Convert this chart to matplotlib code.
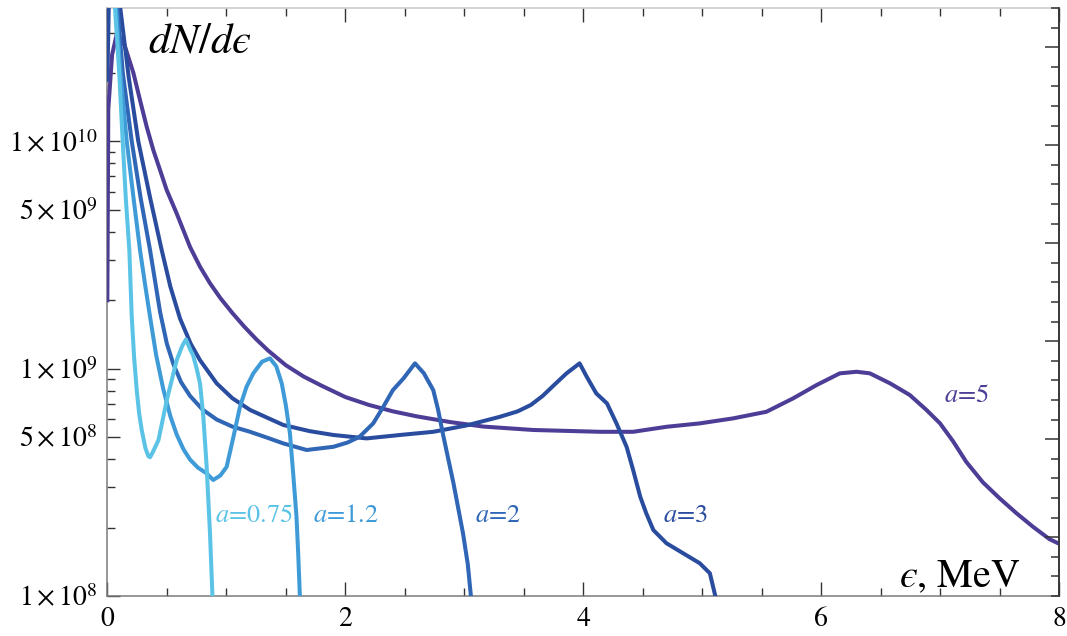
import numpy as np
import matplotlib
matplotlib.use("Agg")
import matplotlib.pyplot as plt
from matplotlib.ticker import FixedLocator, NullFormatter, FixedFormatter

plt.rcParams['mathtext.fontset'] = 'stix'
plt.rcParams['font.family'] = ['STIXGeneral', 'DejaVu Serif']

# ---------------- data ----------------
# energies in MeV, values as log10(dN/de)
x_075 = [0.02, 0.06, 0.10, 0.129, 0.155, 0.185, 0.205, 0.225, 0.247, 0.268, 0.289, 0.32, 0.345,
         0.359, 0.38, 0.43, 0.50, 0.583, 0.63, 0.661, 0.70, 0.72, 0.751, 0.779, 0.807, 0.835,
         0.863, 0.885]
y_075 = [10.75, 10.62, 10.30, 10.0, 9.75, 9.52, 9.23, 9.05, 8.905, 8.80, 8.73, 8.65, 8.615,
         8.61, 8.63, 8.686, 8.862, 9.037, 9.10, 9.128, 9.08, 9.06, 9.00, 8.935, 8.788, 8.568,
         8.275, 7.98]

x_12 = [0.02, 0.07, 0.11, 0.163, 0.22, 0.275, 0.32, 0.359, 0.41, 0.47, 0.53, 0.583, 0.64, 0.695,
        0.76, 0.835, 0.89, 0.95, 1.003, 1.06, 1.115, 1.17, 1.227, 1.30, 1.367, 1.42, 1.466, 1.50,
        1.535, 1.565, 1.59, 1.605, 1.62]
y_12 = [10.75, 10.62, 10.30, 10.0, 9.75, 9.52, 9.36, 9.228, 9.06, 8.91, 8.79, 8.71, 8.645, 8.60,
        8.565, 8.539, 8.51, 8.53, 8.568, 8.70, 8.832, 8.92, 8.979, 9.03, 9.045, 9.01, 8.935, 8.84,
        8.715, 8.52, 8.349, 8.18, 7.98]

x_2 = [0.02, 0.08, 0.13, 0.205, 0.28, 0.359, 0.443, 0.50, 0.555, 0.62, 0.695, 0.80, 0.919, 1.05,
       1.2, 1.35, 1.479, 1.675, 1.90, 2.02, 2.12, 2.235, 2.32, 2.40, 2.49, 2.586, 2.66, 2.74,
       2.78, 2.82, 2.91, 2.99, 3.03, 3.06]
y_2 = [10.75, 10.62, 10.30, 10.0, 9.75, 9.521, 9.25, 9.11, 9.02, 8.94, 8.88, 8.82, 8.776, 8.745,
       8.722, 8.695, 8.671, 8.642, 8.656, 8.675, 8.70, 8.759, 8.832, 8.905, 8.957, 9.023, 8.98,
       8.905, 8.82, 8.715, 8.495, 8.275, 8.14, 7.98]

x_3 = [0.0, 0.02, 0.06, 0.11, 0.18, 0.26, 0.36, 0.457, 0.53, 0.611, 0.70, 0.779, 0.919, 1.05,
       1.20, 1.479, 1.70, 1.90, 2.18, 2.46, 2.74, 3.02, 3.30, 3.45, 3.56, 3.66, 3.75, 3.86, 3.97,
       4.03, 4.11, 4.20, 4.28, 4.365, 4.42, 4.48, 4.53, 4.59, 4.70, 4.84, 4.98, 5.065, 5.12]
y_3 = [10.27, 10.80, 10.80, 10.58, 10.28, 10.0, 9.75, 9.521, 9.36, 9.22, 9.11, 9.037, 8.935,
       8.87, 8.818, 8.752, 8.725, 8.708, 8.693, 8.708, 8.722, 8.75, 8.788, 8.812, 8.84, 8.88,
       8.925, 8.979, 9.023, 8.964, 8.891, 8.847, 8.759, 8.656, 8.554, 8.436, 8.364, 8.29, 8.232,
       8.188, 8.144, 8.10, 7.98]

x_5 = [0.0, 0.008, 0.04, 0.079, 0.115, 0.149, 0.219, 0.275, 0.331, 0.387, 0.443, 0.499, 0.583,
       0.695, 0.779, 0.863, 0.95, 1.05, 1.15, 1.25, 1.35, 1.5, 1.65, 1.8, 2.0, 2.2, 2.4, 2.6,
       2.88, 3.16, 3.58, 4.14, 4.42, 4.70, 4.98, 5.26, 5.54, 5.765, 5.96, 6.157, 6.30, 6.41,
       6.58, 6.745, 6.886, 7.0, 7.11, 7.22, 7.36, 7.50, 7.64, 7.78, 7.92, 8.0]
y_5 = [9.30, 10.14, 10.38, 10.47, 10.45, 10.415, 10.30, 10.18, 10.063, 9.96, 9.873, 9.785,
       9.682, 9.535, 9.448, 9.375, 9.31, 9.245, 9.185, 9.13, 9.08, 9.015, 8.965, 8.925, 8.875,
       8.84, 8.812, 8.79, 8.765, 8.745, 8.73, 8.722, 8.722, 8.744, 8.759, 8.781, 8.81, 8.869,
       8.927, 8.979, 8.986, 8.979, 8.935, 8.884, 8.818, 8.759, 8.68, 8.59, 8.50, 8.43, 8.365,
       8.305, 8.25, 8.23]

series_x = [x_5, x_3, x_2, x_12, x_075]
series_logy = [y_5, y_3, y_2, y_12, y_075]
colors = ['#4E3D96', '#2A4C9F', '#2F66B5', '#3F9BD8', '#5BC3E6']

# label anchor positions (x in MeV, y value at baseline)
label_x = [7.03, 4.67, 3.09, 1.73, 0.905]
label_y = [7.1e8, 2.12e8, 2.12e8, 2.12e8, 2.12e8]
label_texts = [r'$a$=5', r'$a$=3', r'$a$=2', r'$a$=1.2', r'$a$=0.75']

ytick_major = [1e8, 5e8, 1e9, 5e9, 1e10]
ytick_labels = [r'$1\times10^{8}$', r'$5\times10^{8}$', r'$1\times10^{9}$',
                r'$5\times10^{9}$', r'$1\times10^{10}$']
ytick_minor = [2e8, 3e8, 4e8, 6e8, 7e8, 8e8, 9e8, 2e9, 3e9, 4e9, 6e9, 7e9, 8e9, 9e9, 2e10, 3e10]
xtick_major = [0, 2, 4, 6, 8]
xtick_minor = [0.5, 1, 1.5, 2.5, 3, 3.5, 4.5, 5, 5.5, 6.5, 7, 7.5]

# ---------------- figure ----------------
fig = plt.figure(figsize=(10.67, 6.36), dpi=100)
ax = fig.add_axes([0.1006, 0.0629, 0.8919, 0.9245])

for xs, ly, c in zip(series_x, series_logy, colors):
    ax.plot(xs, 10 ** np.array(ly), color=c, lw=2.9, solid_joinstyle='round', zorder=3)

ax.set_yscale('log')
ax.set_xlim(0, 8)
ax.set_ylim(1e8, 3.85e10)

ax.yaxis.set_major_locator(FixedLocator(ytick_major))
ax.yaxis.set_major_formatter(FixedFormatter(ytick_labels))
ax.yaxis.set_minor_locator(FixedLocator(ytick_minor))
ax.yaxis.set_minor_formatter(NullFormatter())
ax.xaxis.set_major_locator(FixedLocator(xtick_major))
ax.xaxis.set_major_formatter(FixedFormatter([str(v) for v in xtick_major]))
ax.xaxis.set_minor_locator(FixedLocator(xtick_minor))

ax.tick_params(axis='both', which='both', direction='in', labelsize=20, colors='#333333')
ax.tick_params(axis='x', which='major', length=10, width=1.0, top=True, pad=8, labelcolor='black')
ax.tick_params(axis='x', which='minor', length=6, width=1.0, top=True)
ax.tick_params(axis='y', which='major', length=9, width=1.0, right=False, pad=7, labelcolor='black')
ax.tick_params(axis='y', which='minor', length=6, width=1.0, right=False)

for side, col in [('left', '#7a7a7a'), ('bottom', '#7a7a7a'), ('top', '#c8c8c8'), ('right', '#333333')]:
    ax.spines[side].set_color(col)
    ax.spines[side].set_linewidth(1.1)

# right-hand frame ticks (uniform spacing)
ax2 = ax.twinx()
ax2.set_ylim(30, 0)
ax2.yaxis.set_major_locator(FixedLocator([2, 7, 12, 17, 22, 27]))
ax2.yaxis.set_minor_locator(FixedLocator(list(range(0, 31))))
ax2.yaxis.set_major_formatter(NullFormatter())
ax2.yaxis.set_minor_formatter(NullFormatter())
ax2.tick_params(axis='y', which='major', direction='in', length=10, width=1.1, colors='#333333')
ax2.tick_params(axis='y', which='minor', direction='in', length=6, width=1.1, colors='#333333')
for side in ['left', 'bottom', 'top']:
    ax2.spines[side].set_visible(False)
ax2.spines['right'].set_color('#333333')
ax2.spines['right'].set_linewidth(1.1)

for t, lx, lyv, c in zip(label_texts, label_x, label_y, colors):
    ax.text(lx, lyv, t, color=c, fontsize=19, ha='left', va='baseline', zorder=4)

ax.text(0.0428, 0.9235, '$dN/d\u03f5$', transform=ax.transAxes, fontsize=31,
        ha='left', va='baseline', color='black')
ax.text(0.96, 0.0153, '$\u03f5$, MeV', transform=ax.transAxes, fontsize=29,
        ha='right', va='baseline', color='black')

fig.savefig('out.png', dpi=100)
